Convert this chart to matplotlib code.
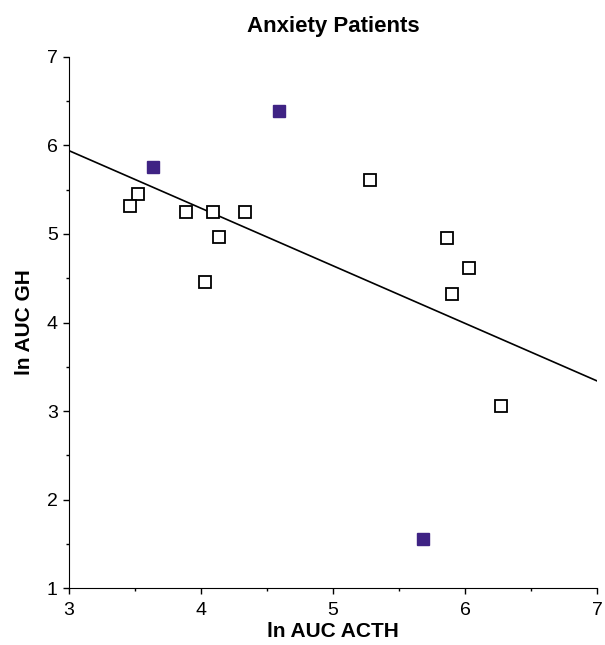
import matplotlib.pyplot as plt
import numpy as np

plt.rcParams['font.family'] = ['Liberation Sans', 'DejaVu Sans']

# open squares
open_x = [3.52, 3.46, 3.89, 4.09, 4.33, 4.14, 4.03, 5.28, 5.86, 6.03, 5.90, 6.27]
open_y = [5.45, 5.31, 5.25, 5.25, 5.25, 4.96, 4.46, 5.61, 4.95, 4.61, 4.32, 3.06]

# filled squares
filled_x = [3.64, 4.59, 5.68]
filled_y = [5.76, 6.39, 1.56]

# regression line
intercept = 7.89
slope = -0.65
line_x = [3, 7]

fig = plt.figure(figsize=(6.05, 6.45), dpi=100)
ax = fig.add_axes([0.114, 0.088, 0.873, 0.824])

ax.plot(line_x, [intercept + slope * x for x in line_x], color="black", lw=1.2, zorder=1)
ax.plot(open_x, open_y, ls="none", marker="s", ms=8, mfc="white", mec="black", mew=1.3, zorder=2)
ax.plot(filled_x, filled_y, ls="none", marker="s", ms=8.5, mfc="#3f2384", mec="#3f2384", zorder=2)

ax.set_xlim(3, 7)
ax.set_ylim(1, 7)
ax.set_xticks([3, 4, 5, 6, 7])
ax.set_yticks([1, 2, 3, 4, 5, 6, 7])
ax.set_xticks(np.arange(3.5, 7, 1), minor=True)
ax.set_yticks(np.arange(1.5, 7, 1), minor=True)
ax.tick_params(which="major", length=4, width=1, labelsize=14)
ax.tick_params(which="minor", length=2.5, width=1)
ax.tick_params(axis="x", which="major", pad=6)
ax.tick_params(axis="y", which="major", pad=4)

for s in ["top", "right"]:
    ax.spines[s].set_visible(False)

ax.set_title("Anxiety Patients", fontsize=16, fontweight="bold", pad=18)
ax.set_xlabel("ln AUC ACTH", fontsize=15, fontweight="bold", labelpad=2)
ax.set_ylabel("ln AUC GH", fontsize=15, fontweight="bold", labelpad=9)

fig.savefig("out.png", dpi=100)
